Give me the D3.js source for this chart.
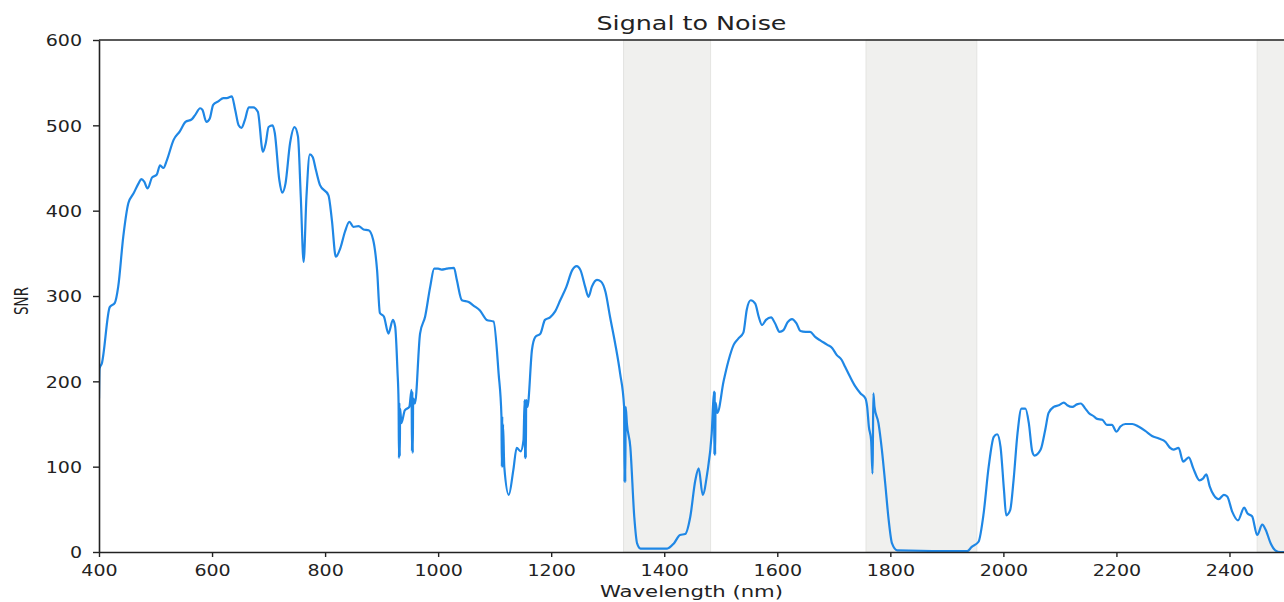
<!DOCTYPE html>
<html>
<head>
<meta charset="utf-8">
<script src="https://cdn.jsdelivr.net/npm/d3@7"></script>
<style>
  html, body { margin: 0; padding: 0; background: #fff; overflow: hidden; }
  svg { display: block; }
  text { font-family: "DejaVu Sans", sans-serif; fill: #222; }
</style>
</head>
<body>
<svg id="chart" width="1284" height="602"></svg>
<script>
// ---- data ----
const chartTitle = "Signal to Noise";
const xLabel = "Wavelength (nm)";
const yLabel = "SNR";
const xTicks = [400, 600, 800, 1000, 1200, 1400, 1600, 1800, 2000, 2200, 2400];
const yTicks = [0, 100, 200, 300, 400, 500, 600];
const shadedBands = [[1328, 1482], [1757, 1953], [2449, 2500]];

const wavelength = [
  400, 401, 405, 419, 428, 434, 443, 452, 461, 470, 475, 480, 486, 494, 502, 508, 514, 520, 532, 543,
  553, 564, 570, 579, 583, 590, 596, 602, 611, 620, 626, 635, 641, 647, 652, 658, 665, 673, 681, 690,
  695, 700, 707, 711, 719, 724, 730, 738, 746, 752, 757, 762, 767, 773, 778, 784, 791, 806, 812, 819,
  827, 835, 843, 850, 859, 868, 877, 885, 892, 897, 904, 912, 920, 924, 928, 930, 930.7, 931.4, 932.1, 932.8,
  935, 941, 949, 953, 953.7, 954.4, 955.1, 955.8, 959, 968, 977, 986, 993, 1000, 1006, 1015, 1028, 1033, 1042, 1054,
  1062, 1074, 1086, 1098, 1107, 1112, 1112.7, 1113.4, 1114.1, 1114.8, 1117, 1125, 1133, 1139, 1146, 1151, 1153, 1153.7, 1154.4, 1155.1,
  1155.8, 1158, 1166, 1172, 1181, 1189, 1198, 1207, 1216, 1227, 1237, 1245, 1252, 1260, 1266, 1272, 1281, 1288, 1296, 1304,
  1313, 1322, 1329, 1329.7, 1330.4, 1331.1, 1331.8, 1334, 1340, 1347, 1352, 1358, 1405, 1417, 1428, 1437, 1446, 1455, 1461, 1468,
  1476, 1484, 1488, 1488.7, 1489.4, 1490.1, 1490.8, 1494, 1505, 1514, 1523, 1531, 1540, 1546, 1553, 1561, 1567, 1573, 1580, 1589,
  1596, 1604, 1611, 1618, 1626, 1634, 1641, 1650, 1658, 1667, 1676, 1688, 1697, 1705, 1714, 1720, 1729, 1738, 1747, 1756,
  1759, 1762, 1766, 1768.5, 1769.2, 1770, 1772, 1779, 1785, 1791, 1797, 1803, 1812, 1936, 1944, 1956, 1965, 1974, 1983, 1989,
  1995, 2001, 2005, 2012, 2018, 2025, 2032, 2039, 2045, 2051, 2055, 2066, 2074, 2080, 2089, 2098, 2107, 2113, 2122, 2130,
  2137, 2145, 2151, 2160, 2166, 2175, 2183, 2192, 2200, 2207, 2216, 2228, 2239, 2251, 2263, 2275, 2287, 2295, 2301, 2310,
  2318, 2328, 2336, 2347, 2353, 2359, 2365, 2372, 2381, 2390, 2396, 2405, 2415, 2426, 2432, 2440, 2449, 2458, 2464, 2473,
  2481, 2490, 2500
];
const snr = [
  180, 215, 221, 287, 292, 311, 370, 409, 420, 432, 437, 434, 426, 439, 442, 453, 450, 459, 483, 493,
  504, 507, 512, 520, 518, 504, 508, 524, 528, 532, 532, 534, 518, 500, 497, 506, 521, 521, 516, 469,
  479, 498, 500, 491, 436, 421, 432, 479, 498, 487, 416, 340, 416, 466, 463, 447, 430, 418, 389, 346,
  356, 375, 387, 381, 382, 378, 377, 366, 330, 280, 276, 256, 272, 264, 213, 175, 110, 175, 112, 168,
  151, 166, 170, 190, 118, 188, 116, 180, 174, 256, 276, 311, 332, 332, 331, 332, 333, 319, 295, 293,
  289, 283, 272, 270, 209, 159, 100, 159, 100, 150, 100, 67, 96, 122, 118, 131, 178, 110, 178, 110,
  178, 170, 237, 252, 256, 272, 275, 282, 295, 311, 330, 335, 330, 311, 299, 311, 319, 317, 305, 276,
  245, 209, 170, 82, 170, 82, 170, 150, 123, 41, 10, 4, 4, 10, 20, 21, 41, 84, 98, 67,
  92, 139, 188, 114, 188, 114, 175, 163, 200, 225, 243, 250, 257, 284, 295, 291, 276, 266, 272, 275,
  268, 258, 260, 269, 273, 268, 259, 258, 258, 252, 248, 243, 239, 231, 225, 217, 205, 194, 186, 180,
  170, 147, 131, 92, 131, 186, 170, 151, 120, 80, 38, 10, 2, 1, 6, 12, 45, 100, 135, 138,
  123, 73, 43, 49, 84, 139, 168, 168, 151, 118, 113, 120, 143, 163, 170, 172, 175, 172, 170, 173,
  174, 168, 163, 159, 156, 155, 149, 149, 141, 147, 150, 150, 147, 142, 136, 133, 129, 122, 120, 122,
  106, 111, 98, 84, 86, 91, 77, 67, 62, 67, 65, 47, 37, 52, 45, 42, 20, 32, 26, 10,
  2, 0, 0
];

// ---- layout ----
const svg = d3.select("#chart");
const mLeft = 99, mTop = 40, mBottom = 552, mRight = 1286;
const sx = 1.19; // horizontal stretch of text glyphs

const x = d3.scaleLinear().domain([400, 2500]).range([mLeft, mRight]);
const y = d3.scaleLinear().domain([0, 600]).range([mBottom, mTop]);

svg.append("defs").append("clipPath").attr("id", "plotclip")
  .append("rect").attr("x", mLeft).attr("y", mTop - 2).attr("width", mRight - mLeft).attr("height", mBottom - mTop + 2);

// shaded bands
svg.append("g").selectAll("rect").data(shadedBands).join("rect")
  .attr("x", d => x(d[0])).attr("y", mTop)
  .attr("width", d => x(d[1]) - x(d[0])).attr("height", mBottom - mTop)
  .attr("fill", "#f0f0ee").attr("stroke", "#e4e4e1").attr("stroke-width", 1);

// line
const pts = wavelength.map((w, i) => [w, snr[i]]);
svg.append("path")
  .datum(pts)
  .attr("clip-path", "url(#plotclip)")
  .attr("fill", "none")
  .attr("stroke", "#1f87e5")
  .attr("stroke-width", 2.2)
  .attr("stroke-linejoin", "round")
  .attr("d", d3.line().x(d => x(d[0])).y(d => y(d[1])).curve(d3.curveMonotoneX));

// axes
const xAxis = svg.append("g").attr("transform", `translate(0,${mBottom})`)
  .call(d3.axisBottom(x).tickValues(xTicks).tickSize(5).tickSizeOuter(0).tickPadding(4).tickFormat(d3.format("d")));
const yAxis = svg.append("g").attr("transform", `translate(${mLeft},0)`)
  .call(d3.axisLeft(y).tickValues(yTicks).tickSize(6).tickSizeOuter(0).tickPadding(5).tickFormat(d3.format("d")));

[xAxis, yAxis].forEach(g => {
  g.select(".domain").attr("stroke", "#222").attr("stroke-width", 1.6);
  g.selectAll(".tick line").attr("stroke", "#222").attr("stroke-width", 1.4);
  g.selectAll(".tick text")
    .attr("font-size", 16)
    .attr("font-family", "DejaVu Sans, sans-serif")
    .attr("fill", "#222")
    .attr("textLength", function() { return this.textContent.length * 12.1; })
    .attr("lengthAdjust", "spacingAndGlyphs");
});
xAxis.selectAll(".tick text").attr("dy", "0.95em");
yAxis.selectAll(".tick text").attr("x", -17).attr("dy", "0.36em");

// top spine
svg.append("line").attr("x1", mLeft).attr("x2", mRight).attr("y1", mTop).attr("y2", mTop)
  .attr("stroke", "#222").attr("stroke-width", 1.6);

// title
svg.append("text").attr("x", 691.5).attr("y", 30).attr("text-anchor", "middle")
  .attr("font-size", 20).attr("textLength", 190).attr("lengthAdjust", "spacingAndGlyphs")
  .text(chartTitle);

// x label
svg.append("text").attr("x", 691.5).attr("y", 597).attr("text-anchor", "middle")
  .attr("font-size", 16).attr("textLength", 183).attr("lengthAdjust", "spacingAndGlyphs")
  .text(xLabel);

// y label
svg.append("text")
  .attr("transform", `translate(28,301) scale(1.35,1) rotate(-90)`)
  .attr("text-anchor", "middle")
  .attr("font-size", 15).attr("textLength", 28).attr("lengthAdjust", "spacingAndGlyphs")
  .text(yLabel);
</script>
</body>
</html>
